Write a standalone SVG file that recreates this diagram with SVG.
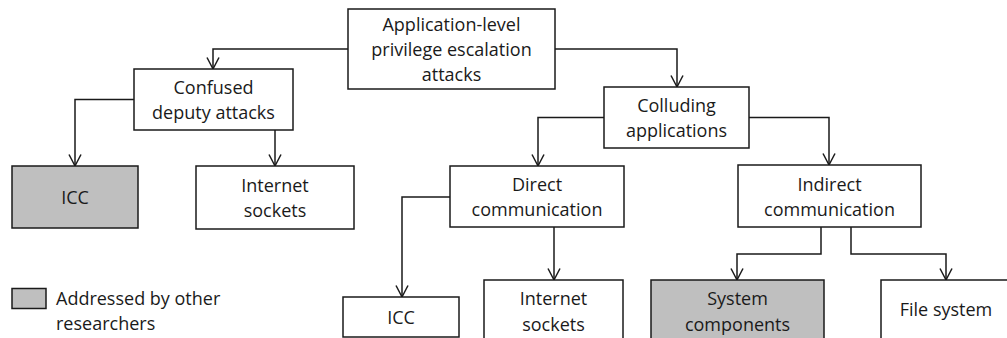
<svg xmlns="http://www.w3.org/2000/svg" width="1007" height="338" viewBox="0 0 1007 338">
  <style>
    .box { fill: #ffffff; stroke: #1a1a1a; stroke-width: 1.5; }
    .shaded { fill: #bfbfbf; stroke: #1a1a1a; stroke-width: 1.5; }
    .lbl { font-family: "Open Sans", "Liberation Sans", sans-serif; font-size: 18px; fill: #1a1a1a; text-anchor: middle; }
    .legend { font-family: "Open Sans", "Liberation Sans", sans-serif; font-size: 18px; fill: #1a1a1a; }
    .edge { fill: none; stroke: #1a1a1a; stroke-width: 1.5; marker-end: url(#vhead); }
  </style>
  <defs>
    <marker id="vhead" markerUnits="userSpaceOnUse" markerWidth="16" markerHeight="16" refX="12" refY="6.5" orient="auto" viewBox="0 0 16 13">
      <path d="M0.5,0.5 L12,6.5 L0.5,12.5" fill="none" stroke="#1a1a1a" stroke-width="1.5"/>
    </marker>
  </defs>

  <g id="connectors">
    <path class="edge" d="M348,49 H213 V69"/>
    <path class="edge" d="M555,49 H677 V87"/>
    <path class="edge" d="M134,99.5 H75 V166"/>
    <path class="edge" d="M275,130 V166"/>
    <path class="edge" d="M604,117.5 H538 V166"/>
    <path class="edge" d="M749,117.5 H829 V165"/>
    <path class="edge" d="M450,197 H402 V297"/>
    <path class="edge" d="M554,227 V280"/>
    <path class="edge" d="M821,227 V254 H737 V280"/>
    <path class="edge" d="M851,227 V254 H946 V280"/>
  </g>

  <g id="root">
    <rect class="box" x="348" y="9" width="207" height="80"/>
    <text class="lbl" x="451.5" y="31">Application-level</text>
    <text class="lbl" x="451.5" y="56">privilege escalation</text>
    <text class="lbl" x="451.5" y="81">attacks</text>
  </g>

  <g id="confused-deputy">
    <rect class="box" x="134" y="69" width="159" height="61"/>
    <text class="lbl" x="213.5" y="94">Confused</text>
    <text class="lbl" x="213.5" y="119">deputy attacks</text>
  </g>

  <g id="cd-icc">
    <rect class="shaded" x="12" y="166" width="126" height="62"/>
    <text class="lbl" x="75" y="204">ICC</text>
  </g>

  <g id="cd-sockets">
    <rect class="box" x="196" y="166" width="158" height="63"/>
    <text class="lbl" x="275" y="192">Internet</text>
    <text class="lbl" x="275" y="217">sockets</text>
  </g>

  <g id="colluding">
    <rect class="box" x="604" y="87" width="145" height="61"/>
    <text class="lbl" x="676.5" y="112">Colluding</text>
    <text class="lbl" x="676.5" y="137">applications</text>
  </g>

  <g id="direct">
    <rect class="box" x="450" y="166" width="174" height="61"/>
    <text class="lbl" x="537" y="191">Direct</text>
    <text class="lbl" x="537" y="216">communication</text>
  </g>

  <g id="indirect">
    <rect class="box" x="738" y="165" width="183" height="62"/>
    <text class="lbl" x="829.5" y="191">Indirect</text>
    <text class="lbl" x="829.5" y="216">communication</text>
  </g>

  <g id="direct-icc">
    <rect class="box" x="343" y="297" width="116" height="40"/>
    <text class="lbl" x="401" y="323.5">ICC</text>
  </g>

  <g id="direct-sockets">
    <rect class="box" x="484" y="280" width="139" height="70"/>
    <text class="lbl" x="553.5" y="305">Internet</text>
    <text class="lbl" x="553.5" y="330.5">sockets</text>
  </g>

  <g id="system-components">
    <rect class="shaded" x="651" y="280" width="173" height="70"/>
    <text class="lbl" x="737.5" y="305">System</text>
    <text class="lbl" x="737.5" y="330.5">components</text>
  </g>

  <g id="file-system">
    <rect class="box" x="881" y="280" width="140" height="70"/>
    <text class="lbl" x="946" y="315.5">File system</text>
  </g>

  <g id="legend">
    <rect class="shaded" x="12" y="288.5" width="34" height="20"/>
    <text class="legend" x="56" y="305">Addressed by other</text>
    <text class="legend" x="56" y="330">researchers</text>
  </g>
</svg>
